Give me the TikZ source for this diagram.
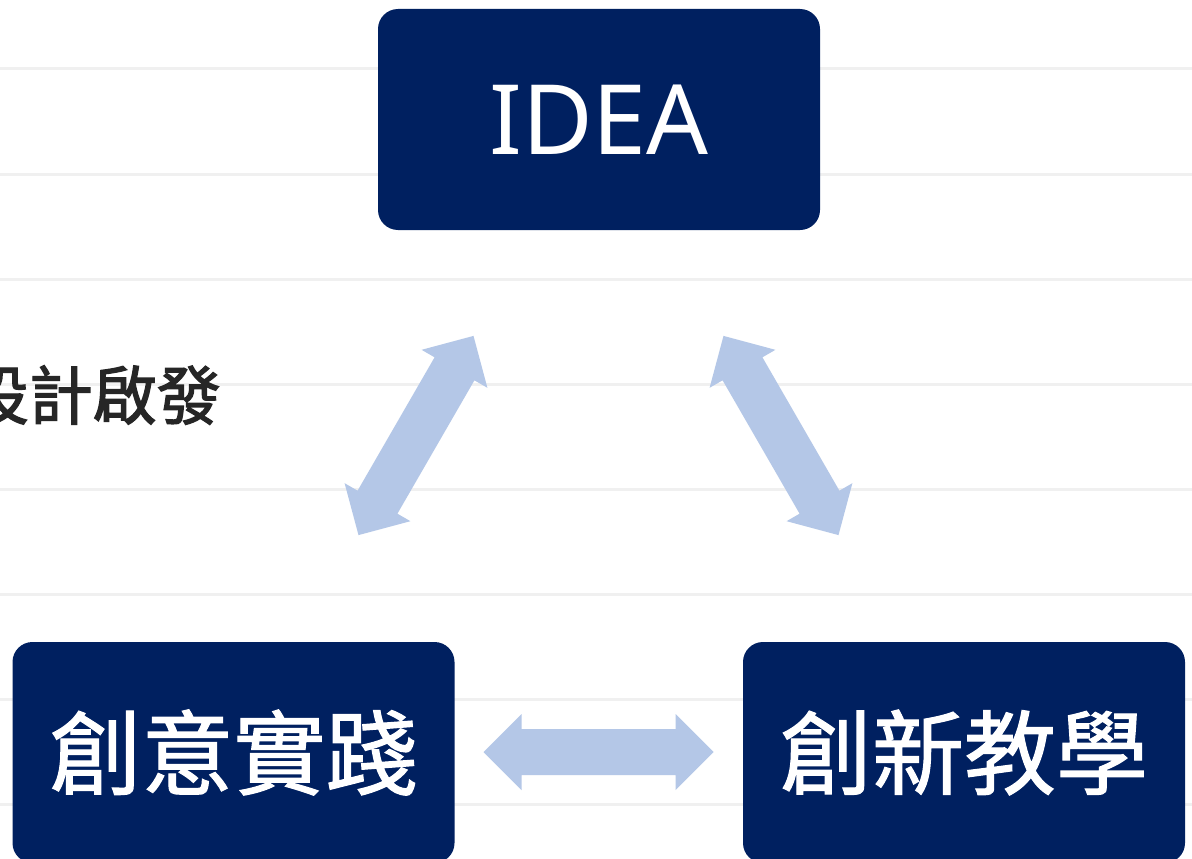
\documentclass[tikz,border=0pt]{standalone}
\usepackage{fontspec}
\setmainfont{Noto Sans}
\newfontfamily\cjk{Noto Sans CJK TC}[FakeBold=1.2]
\newfontfamily\cjkdark{Noto Sans CJK TC}[FakeBold=2]
\definecolor{navy}{RGB}{0,32,96}
\definecolor{arrowblue}{RGB}{180,199,231}
\definecolor{ruleline}{RGB}{240,240,240}
\definecolor{darktext}{RGB}{38,38,38}

\begin{document}
\begin{tikzpicture}[
    x=1pt,
    y=-1pt,
    box/.style={fill=navy, text=white, rounded corners=20pt,
        minimum width=442pt, minimum height=221pt, inner sep=0pt}
]
\useasboundingbox (0,0) rectangle (1192,859);
\fill[white] (0,0) rectangle (1192,859);

% Background rules
\foreach \y in {69,174,...,804}{
    \draw[ruleline,line width=3pt] (0,\y) -- (1192,\y);
}

% Side label, cut at the left edge
\node[anchor=east, text=darktext, inner sep=0pt,
      font=\cjkdark\fontsize{64pt}{64pt}\selectfont] (hint) at (221,395) {設計啟發};

% Boxes
\node[box, font=\fontsize{97pt}{97pt}\selectfont] (idea) at (599,119.5) {IDEA};
\node[box, font=\cjk\fontsize{92pt}{92pt}\selectfont] (practice) at (233.5,752.5) {創意實踐};
\node[box, font=\cjk\fontsize{92pt}{92pt}\selectfont] (teaching) at (964,752.5) {創新教學};

% Double arrows
\foreach \cx/\cy/\ang in {416/435.5/60, 781/435.5/-60, 598.5/752/0}{
    \fill[arrowblue, shift={(\cx,\cy)}, rotate=\ang]
        (-115,0) -- (-77,-38) -- (-77,-23) -- (77,-23) -- (77,-38) -- (115,0)
        -- (77,38) -- (77,23) -- (-77,23) -- (-77,38) -- cycle;
}

\end{tikzpicture}
\end{document}
